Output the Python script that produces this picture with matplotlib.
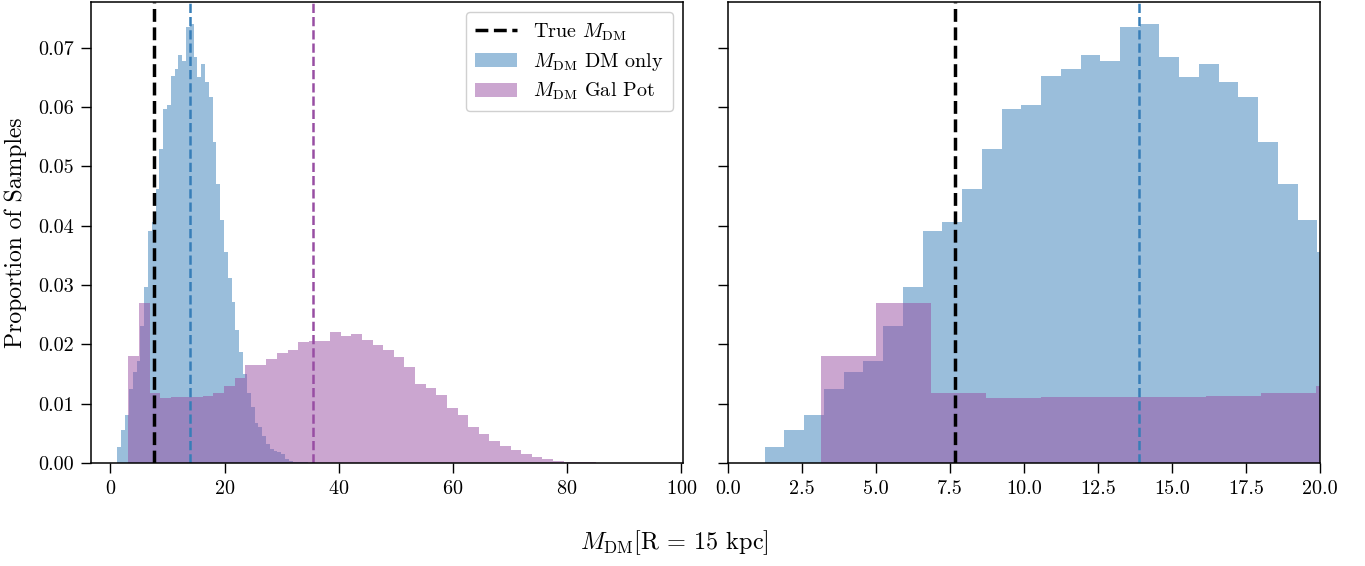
import numpy as np
import matplotlib
matplotlib.use("Agg")
import matplotlib.pyplot as plt

plt.rcParams['font.family'] = 'serif'
plt.rcParams['font.serif'] = ['cmr10']
plt.rcParams['mathtext.fontset'] = 'cm'
plt.rcParams['axes.formatter.use_mathtext'] = True
plt.rcParams['axes.unicode_minus'] = False

# histogram bins (range, number of bins)
dm_only_range = (1.24, 34.58)
gal_pot_range = (3.14, 96.14)
n_bins = 50

# proportion of samples per bin
dm_only = [
    0.0027, 0.0056, 0.0081, 0.0125, 0.0154, 0.0172, 0.0231, 0.0296, 0.0391, 0.0406,
    0.0461, 0.0530, 0.0597, 0.0604, 0.0652, 0.0664, 0.0687, 0.0678, 0.0735, 0.0740,
    0.0684, 0.0651, 0.0673, 0.0643, 0.0617, 0.0541, 0.0470, 0.0409, 0.0355, 0.0312,
    0.0271, 0.0225, 0.0187, 0.0150, 0.0118, 0.0094, 0.0067, 0.0061, 0.0045, 0.0032,
    0.0024, 0.0020, 0.0018, 0.0015, 0.0007, 0.0004, 0.0002, 0.0001, 0.0001, 0.0001,
]
gal_pot = [
    0.0180, 0.0269, 0.0118, 0.0110, 0.0112, 0.0112, 0.0112, 0.0113, 0.0118, 0.0130,
    0.0144, 0.0165, 0.0165, 0.0175, 0.0185, 0.0190, 0.0204, 0.0205, 0.0205, 0.0220,
    0.0214, 0.0217, 0.0207, 0.0199, 0.0190, 0.0178, 0.0162, 0.0133, 0.0126, 0.0114,
    0.0093, 0.0081, 0.0061, 0.0049, 0.0037, 0.0029, 0.0022, 0.0015, 0.0010, 0.0007,
    0.0003, 0.0002, 0.0002, 0.0001, 0.0, 0.0, 0.0, 0.0, 0.0, 0.0,
]

true_mdm = 7.68
median_dm_only = 13.87
median_gal_pot = 35.55

blue = '#377eb8'
purple = '#984ea3'

fig = plt.figure(figsize=(13.65, 5.66), dpi=100)
ax1 = fig.add_axes([91 / 1365, 1 - 463 / 566, 592 / 1365, 461 / 566])
ax2 = fig.add_axes([728 / 1365, 1 - 463 / 566, 592 / 1365, 461 / 566], sharey=ax1)

edges_dm = np.linspace(*dm_only_range, n_bins + 1)
edges_gp = np.linspace(*gal_pot_range, n_bins + 1)

for ax in (ax1, ax2):
    ax.hist(edges_dm[:-1], bins=edges_dm, weights=dm_only, color=blue, alpha=0.5,
            label=r'$M_{\rm DM}$ DM only')
    ax.hist(edges_gp[:-1], bins=edges_gp, weights=gal_pot, color=purple, alpha=0.5,
            label=r'$M_{\rm DM}$ Gal Pot')
    ax.axvline(true_mdm, color='black', ls='--', lw=2.5, label=r'True $M_{\rm DM}$')
    ax.axvline(median_dm_only, color=blue, ls='--', lw=1.8)
    ax.tick_params(direction='out', length=7, width=1, labelsize=14.5, pad=5)
    for s in ax.spines.values():
        s.set_linewidth(1.1)

ax1.axvline(median_gal_pot, color=purple, ls='--', lw=1.8)

ax1.set_xlim(-3.4, 100.3)
ax1.set_ylim(0, 0.0777)
ax1.set_xticks([0, 20, 40, 60, 80, 100])
ax1.set_yticks(np.arange(0, 0.071, 0.01))
ax1.yaxis.set_major_formatter(matplotlib.ticker.FormatStrFormatter('%.2f'))
ax1.set_ylabel('Proportion of Samples', fontsize=17, labelpad=8)

ax2.set_xlim(0, 20)
ax2.set_xticks(np.arange(0, 20.1, 2.5))
ax2.xaxis.set_major_formatter(matplotlib.ticker.FormatStrFormatter('%.1f'))
ax2.tick_params(labelleft=False)

handles, labels = ax1.get_legend_handles_labels()
order = [2, 0, 1]
ax1.legend([handles[i] for i in order], [labels[i] for i in order],
           loc='upper right', fontsize=14.5, framealpha=1, edgecolor='#d0d0d0',
           borderpad=0.45, handlelength=2.1, labelspacing=0.4)

fig.text(0.494, 0.03, r'$M_{\rm DM}$[R = 15 kpc]', ha='center', fontsize=17.5)

fig.savefig('out.png', dpi=100)
